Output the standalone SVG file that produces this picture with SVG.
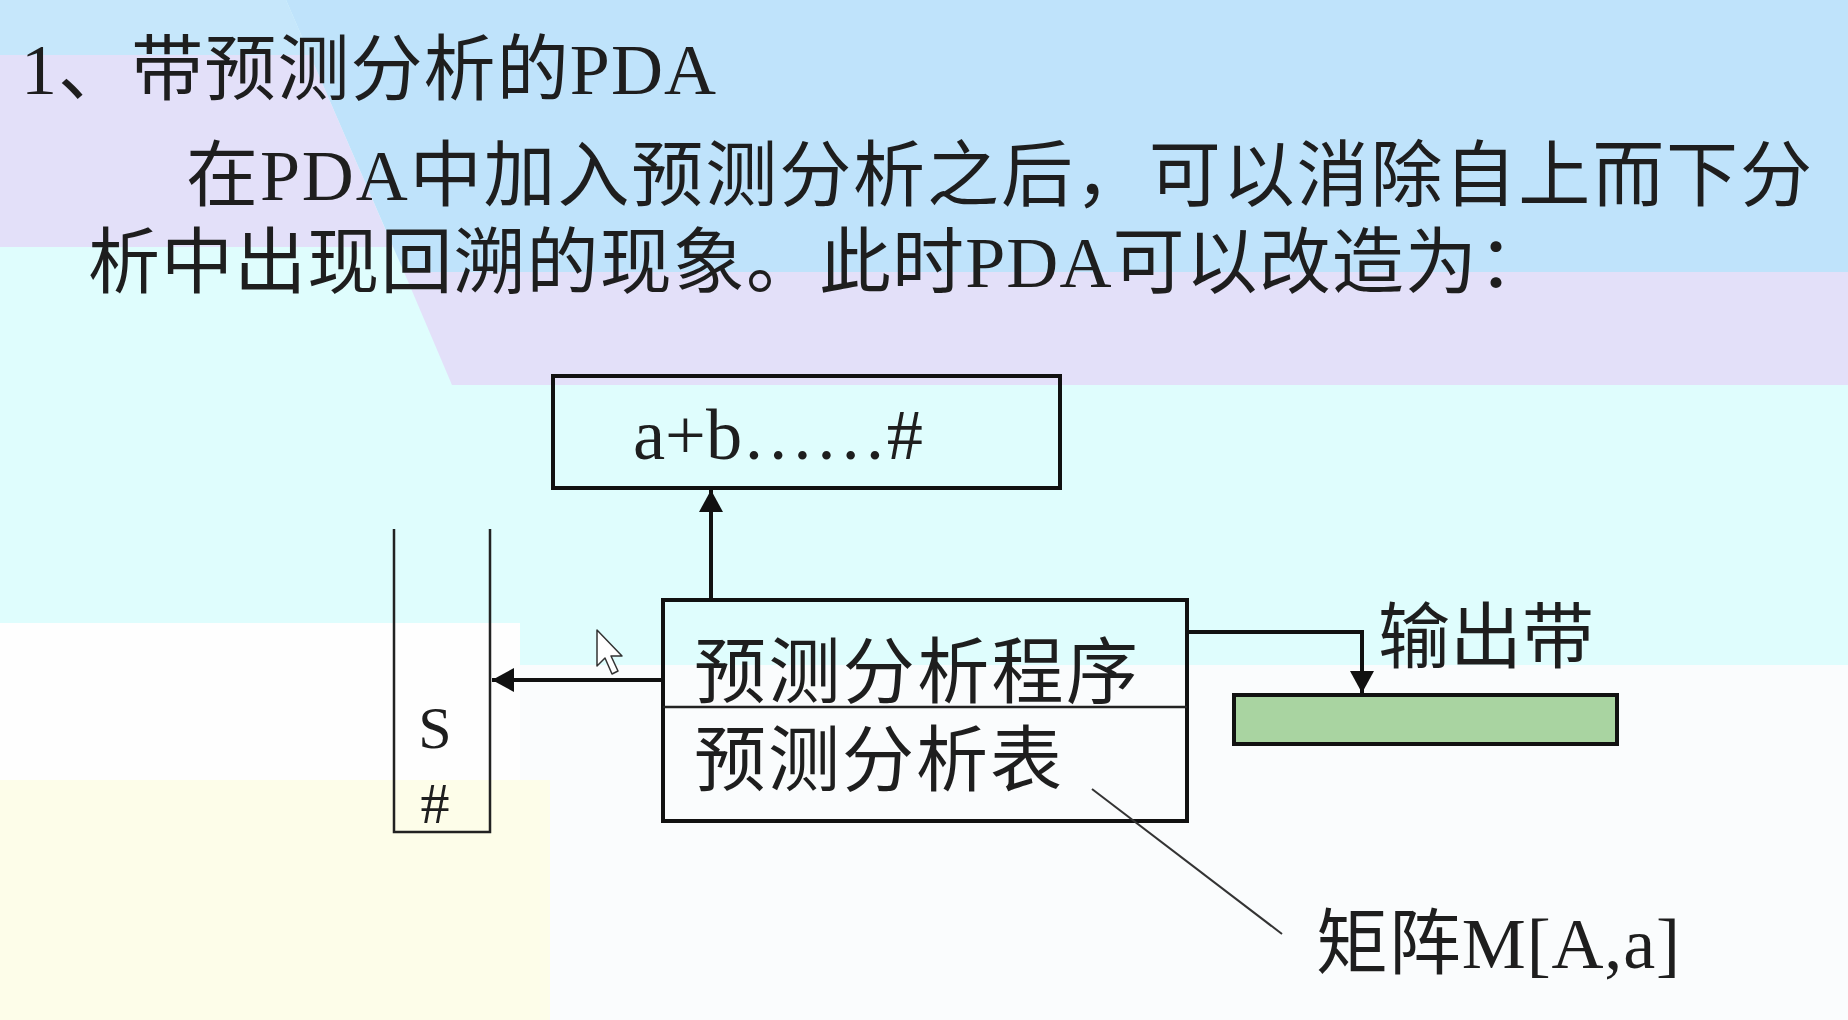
<svg xmlns="http://www.w3.org/2000/svg" width="1848" height="1020" viewBox="0 0 1848 1020">
  <defs>
    <style>
      .t { font-family: 'Liberation Serif', 'Noto Sans CJK SC', serif; fill: #1e1e1e; }
      .box { fill: none; stroke: #111; stroke-width: 4; }
      .thin { fill: none; stroke: #222; stroke-width: 2.5; }
      .conn { fill: none; stroke: #111; stroke-width: 4; }
      .leader { fill: none; stroke: #333; stroke-width: 2; }
    </style>
    <marker id="arrow" markerUnits="userSpaceOnUse" markerWidth="24" markerHeight="26" refX="22" refY="12" orient="auto">
      <path d="M0,0 L22,12 L0,24 Z" fill="#111"/>
    </marker>
  </defs>

  <g id="background">
    <rect x="0" y="0" width="1848" height="1020" fill="#fafcfd"/>
    <rect x="0" y="0" width="1848" height="665" fill="#dffdfd"/>
    <rect x="0" y="623" width="520" height="160" fill="#fefefe"/>
    <rect x="0" y="780" width="550" height="240" fill="#fdfde9"/>
    <polygon points="286,0 1848,0 1848,272 404,272" fill="#bfe3fb"/>
    <polygon points="404,272 1848,272 1848,385 452,385" fill="#e3e0f9"/>
    <polygon points="0,0 286,0 310,55 0,55" fill="#c6e7fb"/>
    <polygon points="0,55 310,55 393,247 0,247" fill="#e3e0f9"/>
  </g>

  <g id="heading">
    <text class="t" x="21" y="94" font-size="72" textLength="695" lengthAdjust="spacing">1、带预测分析的PDA</text>
    <text class="t" x="186" y="200" font-size="72" textLength="1626" lengthAdjust="spacing">在PDA中加入预测分析之后，可以消除自上而下分</text>
    <text class="t" x="88" y="287" font-size="72" textLength="1462" lengthAdjust="spacing">析中出现回溯的现象。此时PDA可以改造为：</text>
  </g>

  <g id="input-tape">
    <rect class="box" x="553" y="376" width="507" height="112"/>
    <text class="t" x="633" y="459" font-size="72" textLength="290" lengthAdjust="spacingAndGlyphs">a+b……#</text>
  </g>

  <g id="stack">
    <path class="thin" d="M394,529 V832 H490 V529"/>
    <text class="t" x="435" y="748" font-size="60" text-anchor="middle">S</text>
    <text class="t" x="435" y="823" font-size="58" text-anchor="middle">#</text>
  </g>

  <g id="parser">
    <rect class="box" x="663" y="600" width="524" height="221"/>
    <line class="thin" x1="663" y1="707" x2="1187" y2="707"/>
    <text class="t" x="694" y="697" font-size="72" textLength="444" lengthAdjust="spacing">预测分析程序</text>
    <text class="t" x="694" y="785" font-size="72" textLength="368" lengthAdjust="spacing">预测分析表</text>
  </g>

  <g id="output-tape">
    <rect x="1234" y="695" width="383" height="49" fill="#a9d4a1" stroke="#111" stroke-width="4"/>
    <text class="t" x="1378" y="662" font-size="72" textLength="216" lengthAdjust="spacing">输出带</text>
  </g>

  <g id="matrix-label">
    <text class="t" x="1316" y="968" font-size="72" textLength="364" lengthAdjust="spacing">矩阵M[A,a]</text>
  </g>

  <g id="connectors">
    <line class="conn" x1="711" y1="600" x2="711" y2="490" marker-end="url(#arrow)"/>
    <line class="conn" x1="663" y1="680" x2="492" y2="680" marker-end="url(#arrow)"/>
    <path class="conn" d="M1187,632 H1362 V693" marker-end="url(#arrow)"/>
    <line class="leader" x1="1092" y1="789" x2="1282" y2="934"/>
  </g>

  <g id="cursor">
    <polygon points="597,630 597,666 605,658 612,674 618,671 611,656 622,656" fill="#ffffff" stroke="#333" stroke-width="1.5" stroke-linejoin="round"/>
  </g>
</svg>
